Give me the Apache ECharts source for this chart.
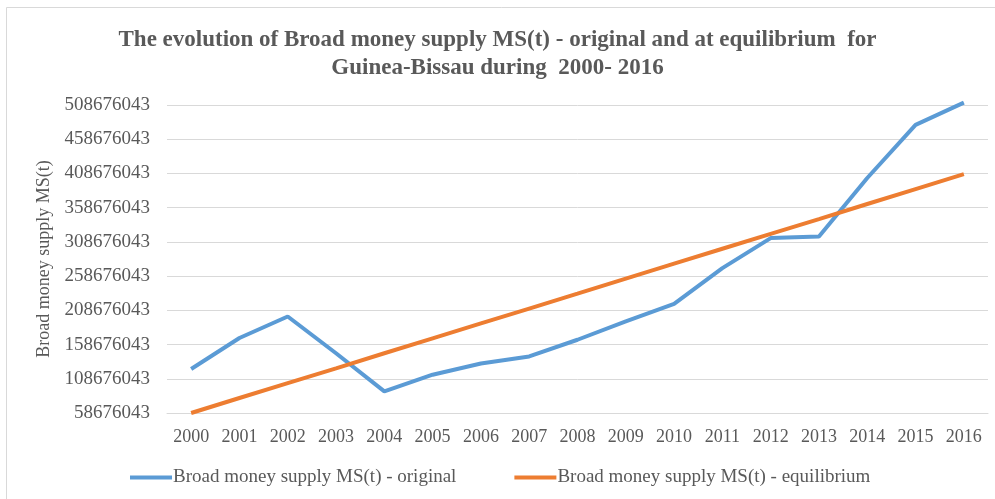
<!DOCTYPE html>
<html>
<head>
<meta charset="utf-8">
<script src="https://cdn.jsdelivr.net/npm/echarts@6/dist/echarts.min.js"></script>
<style>
  html, body { margin: 0; padding: 0; background: #fff; }
  #chart { width: 995px; height: 499px; }
</style>
</head>
<body>
<div id="chart"></div>
<script>
// years on the x axis
var years = ['2000', '2001', '2002', '2003', '2004', '2005', '2006', '2007', '2008',
    '2009', '2010', '2011', '2012', '2013', '2014', '2015', '2016'];

// MS(t) original
var original = [122900000, 168200000, 199700000, 146000000, 90200000, 114600000,
    131000000, 141300000, 165700000, 192400000, 218200000, 270300000, 314200000,
    316500000, 402000000, 479600000, 512100000];

// MS(t) at equilibrium
var equilibrium = [58676043, 80600000, 102300000, 124000000, 146000000, 167800000,
    189500000, 211300000, 233000000, 255000000, 276800000, 298600000, 320300000,
    342000000, 364000000, 385800000, 407600000];

// y tick settings
var yMin = 58676043;
var yMax = 508676043;
var yStep = 50000000;

var textColor = '#595959';
var font = 'Liberation Serif';

var chart = echarts.init(document.getElementById('chart'));

var option = {
    backgroundColor: '#fff',
    animation: false,
    title: {
        text: 'The evolution of Broad money supply MS(t) - original and at equilibrium  for\nGuinea-Bissau during  2000- 2016',
        left: 'center',
        top: 21,
        textStyle: {
            fontFamily: font,
            fontWeight: 'bold',
            fontSize: 23,
            lineHeight: 28,
            color: textColor
        }
    },
    // thin frame of the picture
    graphic: [{
        type: 'polyline',
        shape: { points: [[6.5, 510], [6.5, 7.5], [1010, 7.5]] },
        style: { stroke: '#d9d9d9', fill: null, lineWidth: 1 },
        silent: true
    }],
    grid: {
        left: 167,
        right: 7,
        top: 105,
        bottom: 86
    },
    legend: {
        left: 125,
        top: 463,
        icon: 'rect',
        itemWidth: 42,
        itemHeight: 4,
        itemGap: 58,
        textStyle: {
            fontFamily: font,
            fontSize: 19,
            color: textColor,
            padding: [0, 0, 0, -4]
        },
        data: ['Broad money supply MS(t) - original', 'Broad money supply MS(t) - equilibrium']
    },
    xAxis: {
        type: 'category',
        data: years,
        boundaryGap: true,
        axisLine: { show: true, lineStyle: { color: '#d9d9d9' } },
        axisTick: { show: false },
        axisLabel: {
            margin: 15,
            fontFamily: font,
            fontSize: 18,
            color: textColor
        }
    },
    yAxis: {
        type: 'value',
        min: yMin,
        max: yMax,
        interval: yStep,
        name: 'Broad money supply MS(t)',
        nameLocation: 'middle',
        nameGap: 113,
        nameTextStyle: {
            fontFamily: font,
            fontSize: 18,
            color: textColor
        },
        axisLine: { show: false },
        axisTick: { show: false },
        splitLine: { lineStyle: { color: '#d9d9d9', width: 1 } },
        axisLabel: {
            margin: 17,
            fontFamily: font,
            fontSize: 19,
            color: textColor,
            formatter: function (v) { return v.toFixed(0); }
        }
    },
    series: [{
        name: 'Broad money supply MS(t) - original',
        type: 'line',
        data: original,
        symbol: 'none',
        clip: false,
        lineStyle: { color: '#5b9bd5', width: 4 },
        itemStyle: { color: '#5b9bd5' }
    }, {
        name: 'Broad money supply MS(t) - equilibrium',
        type: 'line',
        data: equilibrium,
        symbol: 'none',
        clip: false,
        lineStyle: { color: '#ed7d31', width: 4 },
        itemStyle: { color: '#ed7d31' }
    }]
};

chart.setOption(option);
</script>
</body>
</html>
